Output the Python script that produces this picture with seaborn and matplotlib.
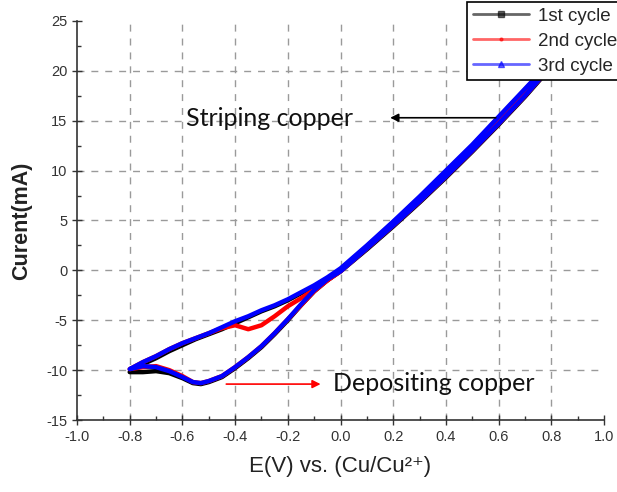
import matplotlib
matplotlib.use("Agg")
import matplotlib.pyplot as plt
from matplotlib.lines import Line2D
from matplotlib.ticker import MultipleLocator
import seaborn as sns
import pandas as pd

# ---- data ----
E_cath = [0.85, 0.8, 0.7, 0.6, 0.5, 0.4, 0.3, 0.2, 0.1, 0.0, -0.05, -0.1, -0.15, -0.2, -0.25,
          -0.3, -0.35, -0.4, -0.45, -0.5, -0.53, -0.56, -0.6, -0.65, -0.7, -0.75, -0.8]
E_anod = [-0.8, -0.75, -0.7, -0.65, -0.6, -0.55, -0.5, -0.45, -0.4, -0.35, -0.3, -0.25, -0.2,
          -0.15, -0.1, -0.05, 0.0, 0.1, 0.2, 0.3, 0.4, 0.5, 0.6, 0.7, 0.8, 0.85]

I1_cath = [22.1, 20.4, 17.4, 14.6, 11.9, 9.3, 6.8, 4.4, 2.1, -0.1, -1.0, -2.1, -3.5, -5.0, -6.4,
           -7.7, -8.8, -9.8, -10.7, -11.2, -11.4, -11.3, -10.8, -10.3, -10.1, -10.2, -10.2]
I1_anod = [-10.2, -9.4, -8.8, -8.1, -7.5, -6.9, -6.4, -5.9, -5.3, -4.7, -4.1, -3.6, -3.0,
           -2.3, -1.6, -0.8, 0.1, 2.4, 4.8, 7.3, 9.9, 12.5, 15.3, 18.1, 20.9, 22.4]

I2_cath = [22.2, 20.5, 17.5, 14.7, 12.0, 9.4, 6.9, 4.5, 2.2, -0.1, -1.0, -2.1, -3.5, -4.9, -6.3,
           -7.6, -8.7, -9.7, -10.6, -11.1, -11.3, -11.2, -10.6, -10.0, -9.6, -9.7, -9.9]
I2_anod = [-9.9, -9.2, -8.6, -7.9, -7.3, -6.8, -6.3, -5.8, -5.5, -5.9, -5.5, -4.6, -3.6,
           -2.8, -1.9, -1.0, 0.0, 2.4, 4.8, 7.3, 9.9, 12.5, 15.3, 18.1, 20.9, 22.4]

I3_cath = [22.2, 20.5, 17.5, 14.7, 12.0, 9.4, 6.9, 4.5, 2.2, -0.1, -0.9, -2.0, -3.4, -4.9, -6.3,
           -7.6, -8.7, -9.7, -10.6, -11.1, -11.3, -11.2, -10.7, -10.1, -9.7, -9.6, -9.9]
I3_anod = [-9.9, -9.2, -8.6, -7.9, -7.3, -6.8, -6.3, -5.7, -5.1, -4.6, -4.0, -3.5, -2.9,
           -2.2, -1.5, -0.7, 0.2, 2.5, 4.9, 7.4, 10.0, 12.6, 15.4, 18.2, 21.0, 22.5]

cycles = ["1st cycle", "2nd cycle", "3rd cycle"]
colors = ["#000000", "#ff0000", "#0000ff"]
markers = ["s", ".", "^"]

x_ticks = [-1.0, -0.8, -0.6, -0.4, -0.2, 0.0, 0.2, 0.4, 0.6, 0.8, 1.0]
y_ticks = [-15, -10, -5, 0, 5, 10, 15, 20, 25]

rows = []
for name, ic, ia in [(cycles[0], I1_cath, I1_anod), (cycles[1], I2_cath, I2_anod), (cycles[2], I3_cath, I3_anod)]:
    k = 0
    for e, i in zip(E_cath + E_anod, ic + ia):
        rows.append({"cycle": name, "E": e, "I": i, "order": k})
        k += 1
df = pd.DataFrame(rows)

sns.set_style("ticks")
plt.rcParams["font.family"] = ["Liberation Sans", "DejaVu Sans"]

fig = plt.figure(figsize=(6.17, 4.92), dpi=100)
ax = fig.add_axes([77 / 617, 1 - 420 / 492, (604 - 77) / 617, (420 - 21) / 492])

# grid (interior only)
for xv in x_ticks[1:-1]:
    ax.axvline(xv, color="#9a9a9a", lw=1.0, ls=(0, (5, 5)), zorder=0)
for yv in y_ticks[1:-1]:
    ax.axhline(yv, color="#9a9a9a", lw=1.0, ls=(0, (5, 5)), zorder=0)

for name, c in zip(cycles, colors):
    sub = df[df["cycle"] == name]
    sns.lineplot(data=sub, x="E", y="I", sort=False, estimator=None, color=c,
                 lw=3.2, ax=ax, legend=False, zorder=3)

ax.set_xlim(-1.0, 1.0)
ax.set_ylim(-15, 25)
ax.set_xticks(x_ticks)
ax.set_yticks(y_ticks)
ax.set_xticklabels([f"{v:.1f}" for v in x_ticks])
ax.set_yticklabels([str(v) for v in y_ticks])
ax.xaxis.set_minor_locator(MultipleLocator(0.1))
ax.yaxis.set_minor_locator(MultipleLocator(2.5))
ax.tick_params(which="major", direction="inout", length=7, width=1, labelsize=10.5, colors="#333333")
ax.tick_params(which="minor", direction="in", length=3, width=1, colors="#333333")
for s in ["top", "right"]:
    ax.spines[s].set_visible(False)
for s in ["left", "bottom"]:
    ax.spines[s].set_color("#333333")
    ax.spines[s].set_linewidth(1.2)

ax.set_xlabel("E(V) vs. (Cu/Cu²⁺)", fontsize=16, color="#222222", labelpad=9)
ax.set_ylabel("Curent(mA)", fontsize=15.5, fontweight="bold", color="#222222", labelpad=10)

# annotations
ax.annotate("", xy=(0.178, 15.3), xytext=(0.60, 15.3),
            arrowprops=dict(arrowstyle="-|>", color="black", lw=1.2, mutation_scale=12), zorder=5)
ax.text(-0.588, 15.2, "Striping copper", fontsize=18, family=["Lato", "DejaVu Sans"],
        va="center", ha="left", color="#111111")
ax.annotate("", xy=(-0.065, -11.4), xytext=(-0.444, -11.4),
            arrowprops=dict(arrowstyle="-|>", color="red", lw=1.2, mutation_scale=12), zorder=5)
ax.text(-0.03, -11.3, "Depositing copper", fontsize=18, family=["Lato", "DejaVu Sans"],
        va="center", ha="left", color="#111111")

handles = [Line2D([0], [0], color=c, lw=2, alpha=0.6, marker=m, markersize=4,
                  markerfacecolor=c, markeredgecolor=c) for c, m in zip(colors, markers)]
leg = ax.legend(handles, cycles, loc="upper left", bbox_to_anchor=(467 / 617, 1 - 2 / 492),
                bbox_transform=fig.transFigure, fontsize=13.5, frameon=True, fancybox=False,
                handlelength=3.0, borderpad=0.3, labelspacing=0.42, handletextpad=0.5,
                borderaxespad=0)
leg.get_frame().set_edgecolor("black")
leg.get_frame().set_linewidth(1.2)
leg.get_frame().set_alpha(1)
leg.set_zorder(10)

fig.savefig("out.png", dpi=100)
